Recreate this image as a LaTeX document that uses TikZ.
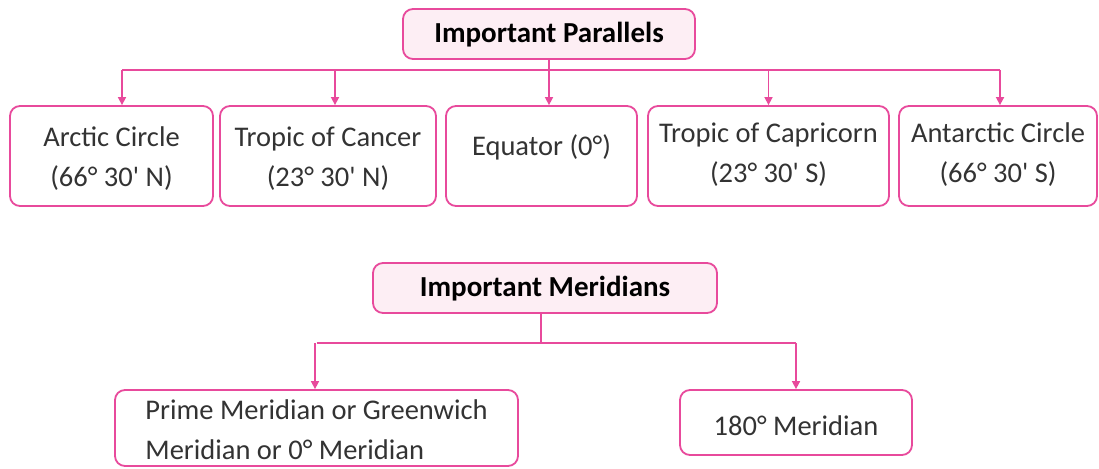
\documentclass[tikz,border=0pt]{standalone}
\usepackage{fontspec}
\setmainfont{Carlito}
\usetikzlibrary{arrows.meta}
\definecolor{pinkline}{HTML}{E84A9C}
\definecolor{pinkfill}{HTML}{FDEEF4}
\definecolor{txt}{HTML}{333333}
\begin{document}
\begin{tikzpicture}[x=1pt,y=-1pt,
  box/.style={draw=pinkline,line width=1.8pt,rounded corners=10pt,fill=white,
    inner sep=0pt,text=txt,align=center,font=\fontsize{28.5}{40}\selectfont},
  titlebox/.style={box,fill=pinkfill,text=black,font=\fontsize{29}{32}\selectfont\bfseries,text height=21pt,text depth=4pt},
  arr/.style={draw=pinkline,line width=1.6pt,-{Triangle[length=8pt,width=8pt]}},
  ln/.style={draw=pinkline,line width=1.6pt}]
\useasboundingbox (0,0) rectangle (1099,468);
\fill[white] (0,0) rectangle (1099,468);
% top tree
\node[titlebox,minimum width=292pt,minimum height=50pt] (t1) at (549,34) {Important Parallels};
\node[box,minimum width=203pt,minimum height=100pt,text height=61pt,text depth=1pt] (arc) at (111.5,156) {Arctic Circle\\(66° 30\textquotesingle{} N)};
\node[box,minimum width=216pt,minimum height=100pt,text height=61pt,text depth=1pt] (can) at (328,156) {Tropic of Cancer\\(23° 30\textquotesingle{} N)};
\node[box,minimum width=191pt,minimum height=100pt,text height=21pt,text depth=23pt] (equ) at (541.5,156) {Equator (0°)};
\node[box,minimum width=241pt,minimum height=100pt,text height=54pt,text depth=2pt] (cap) at (768.5,156) {Tropic of Capricorn\\(23° 30\textquotesingle{} S)};
\node[box,minimum width=198pt,minimum height=100pt,text height=54pt,text depth=2pt] (ant) at (998,156) {Antarctic Circle\\(66° 30\textquotesingle{} S)};
\coordinate (h1) at (549,70);
\draw[ln] (t1.south) -- (h1);
\draw[ln] ([xshift=10.5pt]arc.north |- h1) -- ([xshift=1.5pt]ant.north |- h1);
\draw[arr] ([xshift=10.5pt]arc.north |- h1) -- ([xshift=10.5pt]arc.north);
\draw[arr] ([xshift=7pt]can.north |- h1) -- ([xshift=7pt]can.north);
\draw[arr] ([xshift=7.5pt]equ.north |- h1) -- ([xshift=7.5pt]equ.north);
\draw[arr] (cap.north |- h1) -- (cap.north);
\draw[arr] ([xshift=2pt]ant.north |- h1) -- ([xshift=2pt]ant.north);
% bottom tree
\node[titlebox,minimum width=344pt,minimum height=50pt] (t2) at (545,288) {Important Meridians};
\node[box,minimum width=403pt,minimum height=76pt,align=left,text height=64pt,text depth=2pt] (pm) at (316.5,428) {Prime Meridian or Greenwich\\Meridian or 0° Meridian};
\node[box,minimum width=232pt,minimum height=65pt,text height=30pt,text depth=5pt] (m180) at (796,422.5) {180° Meridian};
\coordinate (h2) at (541,343);
\draw[ln] ([xshift=-4pt]t2.south) -- (h2);
\draw[ln] (pm.north |- h2) -- (m180.north |- h2);
\draw[arr] ([xshift=-1.5pt]pm.north |- h2) -- ([xshift=-1.5pt]pm.north);
\draw[arr] (m180.north |- h2) -- (m180.north);
\end{tikzpicture}
\end{document}
